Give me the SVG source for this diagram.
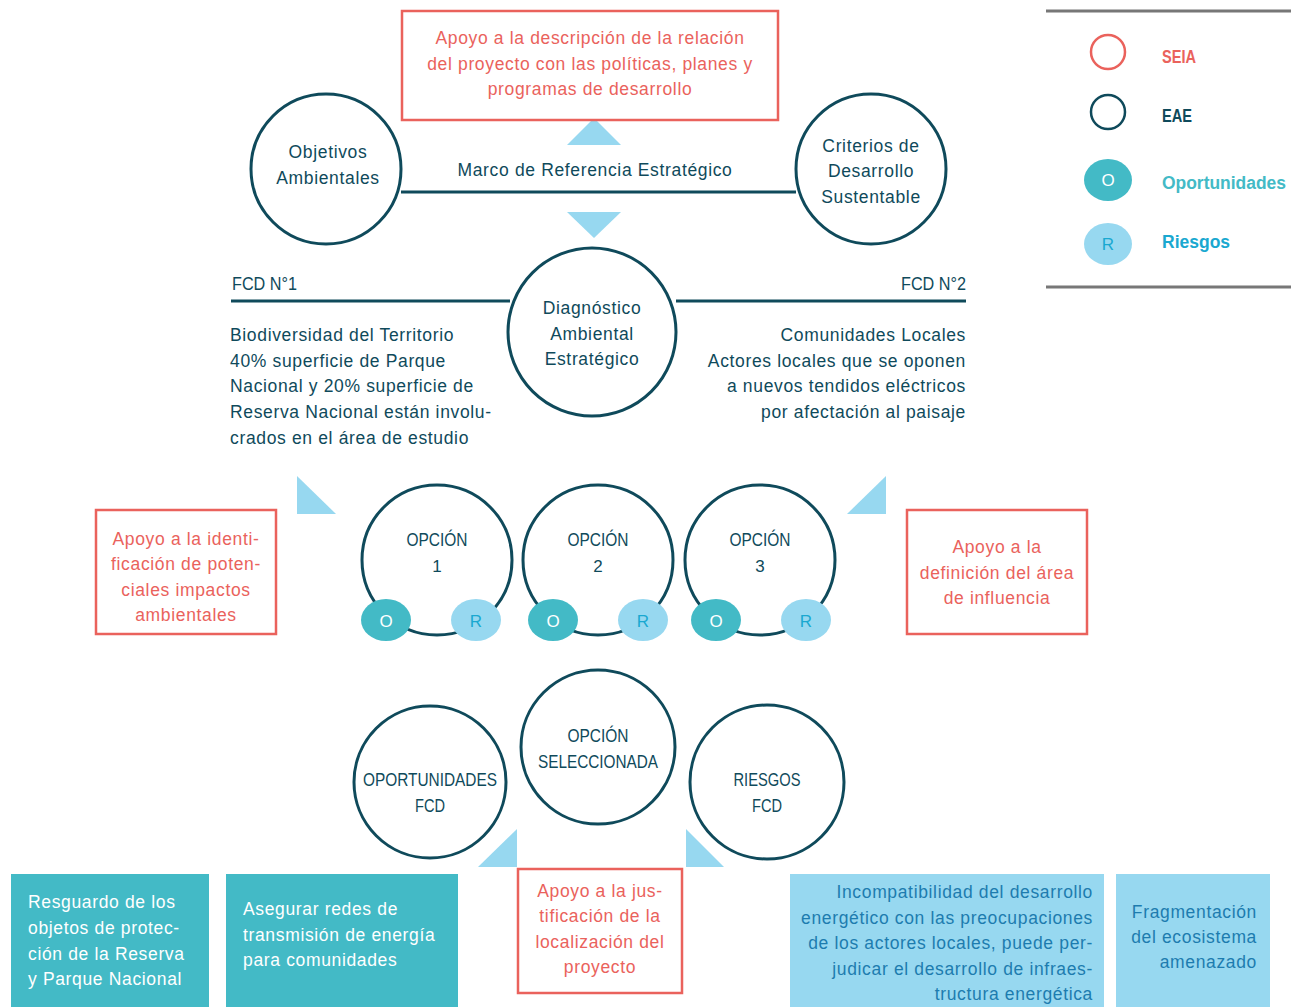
<svg xmlns="http://www.w3.org/2000/svg" width="1291" height="1007" viewBox="0 0 1291 1007">
<style>
text{font-family:"Liberation Sans",Arial,sans-serif;font-size:17.5px;letter-spacing:0.65px}
.d{fill:#0F4A5B}
.c{fill:#EA625C}
.w{fill:#FFFFFF}
.b{fill:#1D7CAF}
.m{text-anchor:middle}
.e{text-anchor:end}
.circ{fill:#FFFFFF;stroke:#0F4A5B;stroke-width:3}
.box{fill:#FFFFFF;stroke:#EA625C;stroke-width:2.5}
.tri{fill:#97D8F0}
.oe{fill:#43BAC6}
.re{fill:#97D8F0}
.line{stroke:#0F4A5B;stroke-width:3;fill:none}
.sm{font-size:17px;letter-spacing:0}
.cap{font-size:17.5px;letter-spacing:0}
</style>
<rect width="1291" height="1007" fill="#FFFFFF"/>

<g id="connectors">
<line class="line" x1="401" y1="192" x2="796" y2="192"/>
<line class="line" x1="231" y1="301" x2="510" y2="301"/>
<line class="line" x1="676" y1="301" x2="966" y2="301"/>
<polygon class="tri" points="567,145 621,145 594,118"/>
<polygon class="tri" points="567,212 621,212 594,238"/>
<polygon class="tri" points="297,476 297,514 336,514"/>
<polygon class="tri" points="886,476 847,514 886,514"/>
<polygon class="tri" points="517,829 478,867 517,867"/>
<polygon class="tri" points="686,829 686,867 724,867"/>
</g>

<g id="legend">
<line x1="1046" y1="11" x2="1291" y2="11" stroke="#777777" stroke-width="3"/>
<line x1="1046" y1="287" x2="1291" y2="287" stroke="#777777" stroke-width="3"/>
<circle cx="1108" cy="52" r="17" fill="none" stroke="#EA625C" stroke-width="2.5"/>
<text x="1162" y="63" class="c cap" font-weight="bold" textLength="34" lengthAdjust="spacingAndGlyphs">SEIA</text>
<circle cx="1108" cy="112" r="17" fill="none" stroke="#0F4A5B" stroke-width="2.5"/>
<text x="1162" y="122" class="d cap" font-weight="bold" textLength="30" lengthAdjust="spacingAndGlyphs">EAE</text>
<ellipse class="oe" cx="1108" cy="180" rx="24" ry="21"/>
<text x="1108" y="186" class="w m sm">O</text>
<text x="1162" y="189" fill="#43BAC6" font-weight="bold" style="letter-spacing:0" textLength="124" lengthAdjust="spacingAndGlyphs">Oportunidades</text>
<ellipse class="re" cx="1108" cy="244" rx="24" ry="21"/>
<text x="1108" y="250" class="m sm" fill="#1AA8D0">R</text>
<text x="1162" y="248" fill="#1AA8D0" font-weight="bold" style="letter-spacing:0">Riesgos</text>
</g>

<g id="box-descripcion">
<rect class="box" x="402" y="11" width="376" height="109"/>
<text x="590" y="44" class="c m">Apoyo a la descripción de la relación</text>
<text x="590" y="70" class="c m">del proyecto con las políticas, planes y</text>
<text x="590" y="95" class="c m">programas de desarrollo</text>
</g>

<g id="marco">
<text x="595" y="176" class="d m">Marco de Referencia Estratégico</text>
</g>

<g id="objetivos">
<circle class="circ" cx="326" cy="169" r="75"/>
<text x="328" y="158" class="d m">Objetivos</text>
<text x="328" y="184" class="d m">Ambientales</text>
</g>

<g id="criterios">
<circle class="circ" cx="871" cy="169" r="75"/>
<text x="871" y="152" class="d m">Criterios de</text>
<text x="871" y="177" class="d m">Desarrollo</text>
<text x="871" y="203" class="d m">Sustentable</text>
</g>

<g id="diagnostico">
<circle class="circ" cx="592" cy="332" r="84"/>
<text x="592" y="314" class="d m">Diagnóstico</text>
<text x="592" y="340" class="d m">Ambiental</text>
<text x="592" y="365" class="d m">Estratégico</text>
</g>

<g id="fcd1">
<text x="232" y="290" class="d cap" textLength="65" lengthAdjust="spacingAndGlyphs">FCD N°1</text>
<text x="230" y="341" class="d">Biodiversidad del Territorio</text>
<text x="230" y="367" class="d">40% superficie de Parque</text>
<text x="230" y="392" class="d">Nacional y 20% superficie de</text>
<text x="230" y="418" class="d">Reserva Nacional están involu-</text>
<text x="230" y="444" class="d">crados en el área de estudio</text>
</g>

<g id="fcd2">
<text x="966" y="290" class="d e cap" textLength="65" lengthAdjust="spacingAndGlyphs">FCD N°2</text>
<text x="966" y="341" class="d e">Comunidades Locales</text>
<text x="966" y="367" class="d e">Actores locales que se oponen</text>
<text x="966" y="392" class="d e">a nuevos tendidos eléctricos</text>
<text x="966" y="418" class="d e">por afectación al paisaje</text>
</g>

<g id="box-identificacion">
<rect class="box" x="96" y="510" width="180" height="124"/>
<text x="186" y="545" class="c m">Apoyo a la identi-</text>
<text x="186" y="570" class="c m">ficación de poten-</text>
<text x="186" y="596" class="c m">ciales impactos</text>
<text x="186" y="621" class="c m">ambientales</text>
</g>

<g id="box-area">
<rect class="box" x="907" y="510" width="180" height="124"/>
<text x="997" y="553" class="c m">Apoyo a la</text>
<text x="997" y="579" class="c m">definición del área</text>
<text x="997" y="604" class="c m">de influencia</text>
</g>

<g id="opcion1">
<circle class="circ" cx="437" cy="560" r="75"/>
<text x="437" y="546" class="d m cap" textLength="61" lengthAdjust="spacingAndGlyphs">OPCIÓN</text>
<text x="437" y="572" class="d m sm">1</text>
<ellipse class="oe" cx="386" cy="620" rx="25" ry="21"/>
<text x="386" y="627" class="w m sm">O</text>
<ellipse class="re" cx="476" cy="620" rx="25" ry="21"/>
<text x="476" y="627" class="m sm" fill="#1AA8D0">R</text>
</g>

<g id="opcion2">
<circle class="circ" cx="598" cy="560" r="75"/>
<text x="598" y="546" class="d m cap" textLength="61" lengthAdjust="spacingAndGlyphs">OPCIÓN</text>
<text x="598" y="572" class="d m sm">2</text>
<ellipse class="oe" cx="553" cy="620" rx="25" ry="21"/>
<text x="553" y="627" class="w m sm">O</text>
<ellipse class="re" cx="643" cy="620" rx="25" ry="21"/>
<text x="643" y="627" class="m sm" fill="#1AA8D0">R</text>
</g>

<g id="opcion3">
<circle class="circ" cx="760" cy="560" r="75"/>
<text x="760" y="546" class="d m cap" textLength="61" lengthAdjust="spacingAndGlyphs">OPCIÓN</text>
<text x="760" y="572" class="d m sm">3</text>
<ellipse class="oe" cx="716" cy="620" rx="25" ry="21"/>
<text x="716" y="627" class="w m sm">O</text>
<ellipse class="re" cx="806" cy="620" rx="25" ry="21"/>
<text x="806" y="627" class="m sm" fill="#1AA8D0">R</text>
</g>

<g id="oportunidades-fcd">
<circle class="circ" cx="430" cy="782" r="76"/>
<text x="430" y="786" class="d m cap" textLength="134" lengthAdjust="spacingAndGlyphs">OPORTUNIDADES</text>
<text x="430" y="812" class="d m cap" textLength="30" lengthAdjust="spacingAndGlyphs">FCD</text>
</g>

<g id="opcion-seleccionada">
<circle class="circ" cx="598" cy="747" r="77"/>
<text x="598" y="742" class="d m cap" textLength="61" lengthAdjust="spacingAndGlyphs">OPCIÓN</text>
<text x="598" y="768" class="d m cap" textLength="120" lengthAdjust="spacingAndGlyphs">SELECCIONADA</text>
</g>

<g id="riesgos-fcd">
<circle class="circ" cx="767" cy="782" r="77"/>
<text x="767" y="786" class="d m cap" textLength="67" lengthAdjust="spacingAndGlyphs">RIESGOS</text>
<text x="767" y="812" class="d m cap" textLength="30" lengthAdjust="spacingAndGlyphs">FCD</text>
</g>

<g id="box-justificacion">
<rect class="box" x="518" y="869" width="164" height="124"/>
<text x="600" y="897" class="c m">Apoyo a la jus-</text>
<text x="600" y="922" class="c m">tificación de la</text>
<text x="600" y="948" class="c m">localización del</text>
<text x="600" y="973" class="c m">proyecto</text>
</g>

<g id="op-resguardo">
<rect x="11" y="874" width="198" height="133" fill="#43BAC6"/>
<text x="28" y="908" class="w">Resguardo de los</text>
<text x="28" y="934" class="w">objetos de protec-</text>
<text x="28" y="960" class="w">ción de la Reserva</text>
<text x="28" y="985" class="w">y Parque Nacional</text>
</g>

<g id="op-asegurar">
<rect x="226" y="874" width="232" height="133" fill="#43BAC6"/>
<text x="243" y="915" class="w">Asegurar redes de</text>
<text x="243" y="941" class="w">transmisión de energía</text>
<text x="243" y="966" class="w">para comunidades</text>
</g>

<g id="ri-incompatibilidad">
<rect x="790" y="874" width="314" height="133" fill="#97D8F0"/>
<text x="1093" y="898" class="b e">Incompatibilidad del desarrollo</text>
<text x="1093" y="924" class="b e">energético con las preocupaciones</text>
<text x="1093" y="949" class="b e">de los actores locales, puede per-</text>
<text x="1093" y="975" class="b e">judicar el desarrollo de infraes-</text>
<text x="1093" y="1000" class="b e">tructura energética</text>
</g>

<g id="ri-fragmentacion">
<rect x="1116" y="874" width="154" height="133" fill="#97D8F0"/>
<text x="1257" y="918" class="b e">Fragmentación</text>
<text x="1257" y="943" class="b e">del ecosistema</text>
<text x="1257" y="968" class="b e">amenazado</text>
</g>
</svg>
